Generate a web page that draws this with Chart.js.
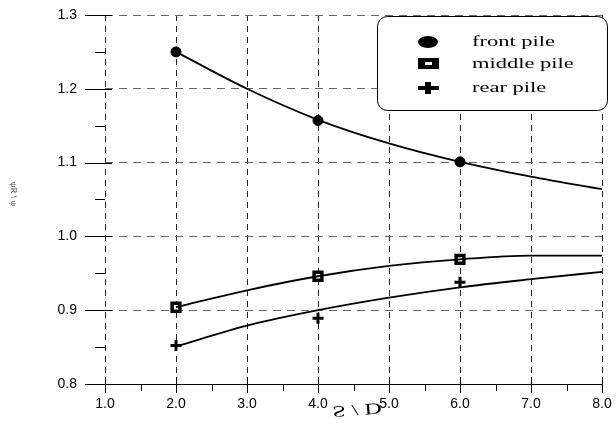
<!DOCTYPE html>
<html lang="en">
<head>
  <meta charset="UTF-8" />
  <title>Pile ratio vs S/D</title>
  <script src="https://cdn.jsdelivr.net/npm/chart.js@4.4.3/dist/chart.umd.min.js"></script>
  <style>
    body { margin: 0; background: #ffffff; }
    .chart-box { width: 616px; height: 426px; }
  </style>
</head>
<body>
  <div class="chart-box">
    <canvas id="chartPiles" width="616" height="426"></canvas>
  </div>

  <script>
    // measured points (S/D = 2, 4, 6)
    const spacing = [2, 4, 6];
    const frontPile = [1.250, 1.157, 1.101];
    const middlePile = [0.904, 0.946, 0.969];
    const rearPile = [0.852, 0.889, 0.938];

    // fitted curves
    const fitX = [2, 3, 4, 5, 6, 7, 8];
    const frontFit = [1.250, 1.200, 1.158, 1.126, 1.101, 1.081, 1.064];
    const middleFit = [0.904, 0.927, 0.946, 0.960, 0.969, 0.974, 0.974];
    const rearFit = [0.851, 0.879, 0.900, 0.917, 0.931, 0.942, 0.952];

    const legendLabels = ['front pile', 'middle pile', 'rear pile'];
    const xTitle = 'S / D';
    const yTitle = 'ψR \\ ψ';

    const pts = (xs, ys) => xs.map((x, i) => ({ x: x, y: ys[i] }));

    // tick marks, legend box and axis titles
    const extras = {
      id: 'extras',
      afterDraw(chart) {
        const ctx = chart.ctx;
        const xs = chart.scales.x, ys = chart.scales.y;
        const area = chart.chartArea;
        ctx.save();
        ctx.strokeStyle = '#000';
        ctx.lineWidth = 1;
        ctx.beginPath();
        for (let v = 0.8; v <= 1.3001; v += 0.05) {
          const y = Math.round(ys.getPixelForValue(v)) + 0.5;
          const major = Math.abs(v * 10 - Math.round(v * 10)) < 0.01;
          ctx.moveTo(area.left - (major ? 20 : 10), y);
          ctx.lineTo(area.left + (major ? 7 : 0), y);
        }
        for (let v = 1; v <= 8.001; v += 0.5) {
          const x = Math.round(xs.getPixelForValue(v)) + 0.5;
          const major = Math.abs(v - Math.round(v)) < 0.01;
          ctx.moveTo(x, area.bottom - (major ? 7 : 0));
          ctx.lineTo(x, area.bottom + (major ? 9 : 7));
        }
        ctx.stroke();

        // legend box
        const bx = 377, by = 16, bw = 230, bh = 94, r = 10;
        ctx.beginPath();
        ctx.roundRect(bx + 0.5, by + 0.5, bw, bh, r);
        ctx.fillStyle = '#fff';
        ctx.fill();
        ctx.stroke();

        const mx = 428, rows = [42, 64, 88];
        ctx.fillStyle = '#000';
        ctx.beginPath();
        ctx.ellipse(mx, rows[0], 10, 6, 0, 0, Math.PI * 2);
        ctx.fill();
        ctx.fillRect(mx - 10, rows[1] - 6, 21, 11);
        ctx.fillStyle = '#fff';
        ctx.fillRect(mx - 3, rows[1] - 2, 7, 3);
        ctx.fillStyle = '#000';
        ctx.fillRect(mx - 3, rows[2] - 6, 6, 12);
        ctx.fillRect(mx - 10, rows[2] - 2, 21, 4);

        ctx.font = '15px "Liberation Serif"';
        ctx.textBaseline = 'middle';
        legendLabels.forEach((t, i) => {
          ctx.save();
          ctx.translate(472, rows[i]);
          ctx.scale(1.5, 1);
          ctx.fillText(t, 0, 0);
          ctx.restore();
        });

        // x title, printed flipped as in the source
        ctx.save();
        ctx.translate(357, 409);
        ctx.rotate(-0.08);
        ctx.scale(1.5, -1);
        ctx.font = '16px "Liberation Serif"';
        ctx.textAlign = 'center';
        ctx.fillText(xTitle, 0, 0);
        ctx.restore();

        // y title
        ctx.save();
        ctx.translate(13, 194);
        ctx.rotate(Math.PI / 2);
        ctx.font = '9px "Liberation Serif"';
        ctx.textAlign = 'center';
        ctx.fillStyle = '#444';
        ctx.fillText(yTitle, 0, 0);
        ctx.restore();

        ctx.restore();
      }
    };

    const curve = (data) => ({
      type: 'line',
      data: data,
      borderColor: '#000',
      borderWidth: 1.8,
      pointRadius: 0,
      cubicInterpolationMode: 'monotone',
      fill: false
    });

    new Chart(document.getElementById('chartPiles').getContext('2d'), {
      type: 'scatter',
      data: {
        datasets: [
          curve(pts(fitX, frontFit)),
          curve(pts(fitX, middleFit)),
          curve(pts(fitX, rearFit)),
          {
            label: legendLabels[0],
            data: pts(spacing, frontPile),
            pointStyle: 'circle',
            pointRadius: 5,
            backgroundColor: '#000',
            borderColor: '#000'
          },
          {
            label: legendLabels[1],
            data: pts(spacing, middlePile),
            pointStyle: 'rect',
            pointRadius: 5.5,
            borderWidth: 3.5,
            backgroundColor: '#fff',
            borderColor: '#000'
          },
          {
            label: legendLabels[2],
            data: pts(spacing, rearPile),
            pointStyle: 'cross',
            pointRadius: 5.5,
            borderWidth: 3,
            backgroundColor: '#000',
            borderColor: '#000'
          }
        ]
      },
      options: {
        responsive: false,
        animation: false,
        devicePixelRatio: 1,
        layout: { autoPadding: false, padding: { top: 15, right: 14, left: 0, bottom: 0 } },
        scales: {
          x: {
            type: 'linear',
            min: 1,
            max: 8,
            afterFit: s => { s.height = 42; s.paddingLeft = 0; s.paddingRight = 0; },
            ticks: {
              stepSize: 1,
              autoSkip: false,
              maxRotation: 0,
              padding: 12,
              color: '#000',
              font: { family: 'Arial, "Liberation Sans"', size: 14 },
              callback: v => Number(v).toFixed(1)
            },
            grid: { color: '#222', lineWidth: 1, drawTicks: false },
            border: { display: true, color: '#000', width: 1, dash: [6, 5] }
          },
          y: {
            type: 'linear',
            min: 0.8,
            max: 1.3,
            afterFit: s => { s.width = 105; s.paddingTop = 0; s.paddingBottom = 0; },
            ticks: {
              stepSize: 0.1,
              autoSkip: false,
              padding: 28,
              color: '#000',
              font: { family: 'Arial, "Liberation Sans"', size: 14 },
              callback: v => Number(v).toFixed(1)
            },
            grid: { color: '#666', lineWidth: 1, drawTicks: false },
            border: { display: false, dash: [8, 6] }
          }
        },
        plugins: {
          legend: { display: false },
          tooltip: { enabled: false }
        }
      },
      plugins: [extras]
    });
  </script>
</body>
</html>
